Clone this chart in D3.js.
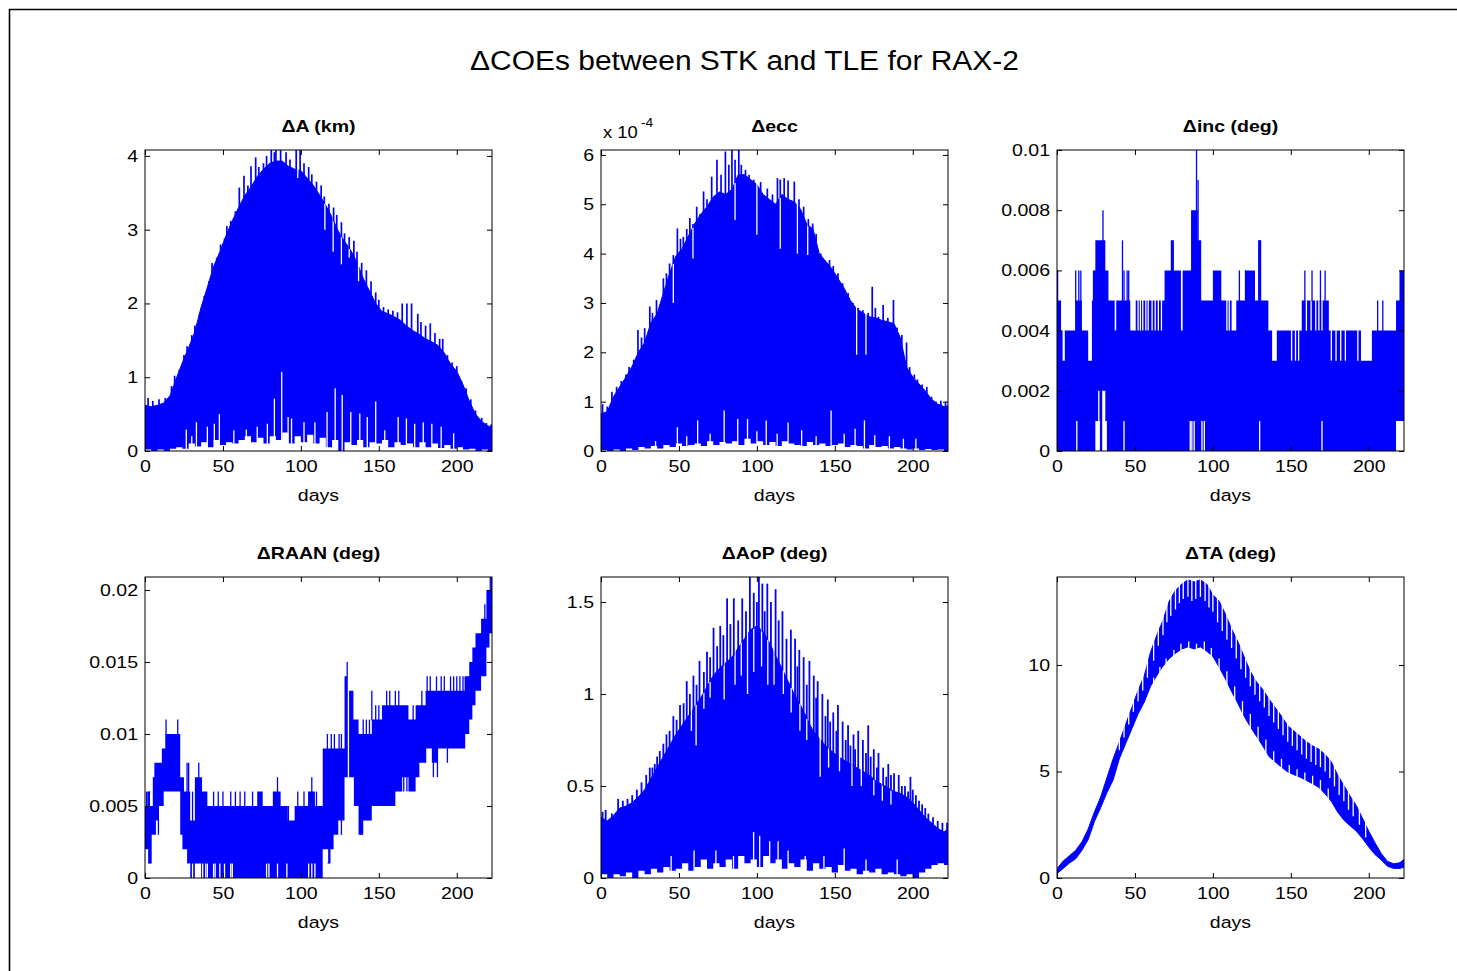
<!DOCTYPE html>
<html><head><meta charset="utf-8">
<script src="https://cdn.jsdelivr.net/npm/d3@7/dist/d3.min.js"></script>
<style>body{margin:0;background:#fff} svg{display:block} text{font-family:"Liberation Sans",Arial,sans-serif}</style>
</head><body>
<script>
// ---------------- DATA ----------------
const X_MAX = 222.6;
const xTicks = [0, 50, 100, 150, 200];
const xTickLabels = ['0', '50', '100', '150', '200'];
const gridDays = [0,4,8,12,16,20,24,28,32,36,40,44,48,52,56,60,64,68,72,76,80,84,88,92,96,100,104,108,112,116,120,124,128,132,136,140,144,148,152,156,160,164,168,172,176,180,184,188,192,196,200,204,208,212,216,220,223];

// dA (km)
const aHi = [0.62,0.6,0.62,0.65,0.75,0.98,1.2,1.4,1.62,1.95,2.22,2.5,2.7,2.92,3.12,3.3,3.46,3.58,3.72,3.82,3.9,3.93,3.93,3.86,3.82,3.8,3.7,3.6,3.47,3.33,3.17,2.98,2.84,2.72,2.56,2.34,2.17,2.0,1.89,1.86,1.82,1.77,1.69,1.63,1.58,1.52,1.48,1.43,1.33,1.18,1.08,0.9,0.68,0.5,0.4,0.34,0.32];
const aLo = [0.02,0,0.02,0,0.03,0.05,0.03,0.1,0.06,0.12,0.05,0.15,0.08,0.12,0.1,0.15,0.2,0.12,0.18,0.1,0.2,0.15,0.25,0.1,0.2,0.12,0.22,0.1,0.18,0.05,0.15,0,0.12,0.08,0.15,0.05,0.12,0.1,0.15,0.05,0.12,0.08,0.1,0.05,0.12,0.05,0.1,0.04,0.08,0.03,0.05,0.02,0.03,0,0.02,0,0.02];
const aSpikes = [[2,0.72],[5,0.68],[9,0.7],[13,0.72],[17,0.88],[19,1.02],[22,1.1],[25,1.3],[27,1.42],[30,1.57],[32,1.7],[35,1.82],[38,2.1],[41,2.3],[43,2.55],[46,2.62],[48.5,2.8],[51,2.88],[52.5,3.05],[55,3.12],[58,3.25],[60.5,3.57],[63.5,3.73],[66,3.6],[68,3.86],[71,3.98],[73,3.85],[76,3.9],[78,4.0],[81,4.11],[83,4.05],[84,4.1],[87,4.1],[90.5,4.05],[93,3.95],[97,4.09],[99.5,4.1],[102,3.9],[105,3.85],[107,3.75],[110,3.65],[113,3.6],[115,3.45],[118,3.35],[121,3.3],[123,3.2],[126,3.1],[128,2.95],[131,2.9],[134,2.85],[136,2.7],[139,2.55],[142,2.45],[145,2.3],[148,2.15],[150,2.05],[153,1.95],[156,1.92],[159,1.9],[162,1.88],[165,2.0],[168,2.0],[171,2.0],[175,1.86],[177,1.75],[180,1.7],[183,1.73],[186,1.6],[189,1.52],[191,1.52],[194,1.3],[197,1.2],[200,1.15],[203,0.95],[206,0.85],[209,0.7],[212,0.55],[216,0.45],[219,0.38],[222,0.36]];
const aDips = [[98,3.7],[115.4,3.0],[120.7,2.7],[126,2.53],[131,2.62],[137,2.3]];
const aGaps = [[26.5,0.29],[30,0.2],[33,0.39],[40,0.33],[44.5,0.37],[47.7,0.5],[57,0.28],[65,0.29],[72,0.33],[78.5,0.37],[83,0.71],[87.7,1.07],[91.8,0.46],[94,0.44],[102,0.39],[109,0.39],[116.8,0.53],[122,0.85],[126.5,0.76],[132,0.53],[137.8,0.51],[142.6,0.46],[148,0.67],[153.8,0.28],[162.4,0.46],[167.7,0.44],[173,0.37],[178.5,0.39],[184,0.37],[190,0.33],[198,0.24]];

// d ecc (units of 1e-4)
const eHi = [0.75,0.8,1.1,1.3,1.5,1.72,2.0,2.2,2.6,2.78,3.2,3.6,3.95,4.1,4.35,4.6,4.8,4.95,5.15,5.25,5.2,5.3,5.6,5.6,5.5,5.4,5.2,5.1,5.0,5.2,5.1,5.05,4.9,4.6,4.5,4.0,3.85,3.7,3.5,3.3,3.05,2.88,2.8,2.72,2.7,2.65,2.62,2.58,2.3,1.7,1.5,1.36,1.22,1.05,0.95,0.9,0.92];
const eLo = [0.02,0,0.03,0,0.05,0.02,0.08,0.05,0.1,0.05,0.12,0.08,0.15,0.1,0.12,0.15,0.1,0.2,0.12,0.18,0.15,0.2,0.12,0.25,0.15,0.2,0.12,0.18,0.1,0.2,0.15,0.12,0.1,0.18,0.12,0.15,0.1,0.12,0.15,0.08,0.12,0.1,0.05,0.12,0.08,0.1,0.05,0.08,0.05,0.03,0.05,0.02,0.04,0.02,0.03,0,0.02];
const eSpikes = [[1,0.95],[4,0.9],[7,1.2],[10,1.3],[13,1.42],[16,1.55],[18,1.7],[21,1.85],[23.7,2.45],[26,2.3],[28,2.49],[31.3,2.93],[33,2.8],[35.6,3.06],[38,2.95],[40,3.5],[42,3.6],[44,3.8],[46.4,3.97],[49,4.51],[51,4.3],[52.8,4.34],[55,4.5],[57,4.72],[59,4.6],[61.4,4.95],[63.5,4.8],[65.8,5.26],[68,5.1],[71,5.56],[74.4,5.9],[77,5.6],[79.8,6.07],[82,5.8],[84,6.1],[86,5.9],[88.4,6.13],[90,5.8],[92.7,5.7],[95,5.6],[98,5.5],[102.4,5.45],[106.7,5.32],[110,5.2],[113.2,5.53],[115,5.5],[117.5,5.53],[120,5.48],[124,5.46],[127,5.1],[130,4.95],[133,4.7],[135.8,4.61],[138,4.4],[141,4.0],[143.4,3.87],[146.6,3.87],[149,3.75],[152,3.6],[155,3.4],[158.5,3.2],[161.7,3.0],[165,2.9],[168,2.85],[171.4,2.8],[174,3.33],[176,2.9],[178,2.72],[181,2.96],[184,2.7],[187.6,3.06],[190,2.5],[193,2.35],[196,2.2],[198,1.7],[201,1.55],[203,1.45],[206,1.35],[209,1.3],[212,1.1],[215,1.0],[218,1.02],[221,1.0]];
const eDips = [[46.4,3.0],[59,3.9],[86,4.68],[100,4.38],[115,4.1],[126,4.0],[132.6,3.97],[164,1.95],[170,1.95]];
const eGaps = [[35,0.2],[49,0.48],[55,0.3],[62,0.62],[70,0.35],[79,0.82],[87.7,0.65],[94,0.65],[100,0.4],[106,0.62],[113,0.35],[120,0.58],[128.7,0.42],[138,0.3],[147.6,0.82],[156,0.35],[163,0.45],[169,0.62],[175.6,0.32],[185,0.3],[194,0.25],[202,0.25]];

// d inc (deg): step envelopes [day, value]
const incHiSteps = [[0,0.006],[0.8,0.005],[2.6,0.004],[3.6,0.003],[5,0.004],[11.6,0.005],[16,0.004],[20,0.003],[22.4,0.005],[23,0.006],[24.6,0.007],[31,0.006],[33,0.005],[37,0.004],[38,0.005],[47,0.004],[50.5,0.005],[69,0.006],[73,0.007],[75,0.006],[79.5,0.004],[80.6,0.006],[86,0.008],[90.3,0.007],[92.5,0.005],[100,0.006],[105.4,0.005],[112,0.004],[115,0.005],[120.5,0.006],[127,0.005],[129,0.007],[131,0.005],[135.6,0.004],[138,0.003],[141,0.004],[157,0.005],[174.4,0.004],[195,0.003],[202,0.004],[217.5,0.005],[219.7,0.006],[224,0.006]];
const incLoSteps = [[0,0],[24.6,0.001],[27.5,0],[29,0.002],[31,0.001],[32,0],[217.5,0.001],[224,0.001]];
const incSpikes = [[12,0.006],[14,0.006],[15.3,0.006],[29.5,0.008],[42,0.007],[43,0.006],[45,0.006],[46,0.006],[89.5,0.01],[90.5,0.009],[117,0.006],[121,0.006],[130,0.007],[159,0.006],[163.6,0.006],[169,0.006],[172,0.006],[205.7,0.005],[209,0.005]];
const incDips = [[52,0.004],[53.5,0.004],[55,0.004],[57,0.004],[58.5,0.004],[61,0.004],[63,0.004],[65,0.004],[67,0.004],[109,0.004],[110.5,0.004],[150.5,0.003],[153,0.003],[155,0.003],[160,0.004],[163,0.004],[166,0.004],[168,0.004],[170,0.004],[176,0.003],[179,0.003],[182,0.003],[185,0.003],[193,0.003]];
const incGaps = [[12.7,0.001],[26.8,0.002],[43,0.001],[85.5,0.001],[86.5,0.001],[88,0.001],[93,0.001],[94.5,0.001],[130,0.001],[170,0.001]];

// d RAAN (deg): step envelopes [day, value]
const raanHiSteps = [[0,0.005],[1.5,0.006],[3.2,0.005],[5,0.007],[6,0.008],[10.8,0.009],[13,0.01],[22.6,0.007],[25,0.006],[29,0.004],[32,0.007],[36.6,0.006],[40,0.005],[72,0.006],[75.5,0.005],[82,0.006],[87,0.005],[91.6,0.004],[96,0.005],[104.6,0.006],[109,0.005],[114,0.009],[128,0.014],[130.4,0.013],[133.7,0.011],[137,0.01],[145.5,0.011],[152,0.012],[169,0.011],[173.6,0.012],[180,0.013],[205,0.014],[208,0.015],[210,0.016],[212,0.017],[215.6,0.018],[219,0.02],[222,0.021],[224,0.021]];
const raanLoSteps = [[0,0.002],[2,0.001],[4.3,0.003],[7,0.004],[9,0.005],[12,0.006],[22.6,0.003],[24,0.002],[27,0.001],[29,0],[32,0.001],[36,0],[114,0.002],[117.5,0.001],[119,0.002],[121,0.003],[124,0.004],[128,0.007],[134,0.005],[137,0.003],[140,0.004],[145.5,0.005],[160.6,0.006],[165,0.007],[169,0.006],[173.6,0.007],[176,0.008],[180,0.009],[184,0.008],[187.6,0.009],[205,0.01],[208,0.011],[210,0.012],[212,0.013],[215.6,0.014],[219,0.016],[221,0.017],[224,0.017]];
const raanSpikes = [[1,0.006],[3,0.006],[13.5,0.011],[21,0.011],[27,0.008],[28,0.008],[30.5,0.006],[34.5,0.008],[44,0.006],[47,0.006],[50,0.006],[55,0.006],[58,0.006],[61,0.006],[64,0.006],[69,0.006],[85,0.007],[92,0.005],[98,0.006],[102,0.006],[107,0.007],[110,0.006],[117,0.01],[119.5,0.01],[121.5,0.01],[124.5,0.01],[126,0.01],[129.7,0.015],[140,0.011],[142,0.011],[144,0.011],[145.5,0.013],[148,0.012],[150,0.012],[155,0.013],[157,0.013],[160.6,0.013],[162.8,0.013],[172,0.012],[177.6,0.013],[181,0.014],[183,0.014],[187,0.014],[190,0.014],[192,0.014],[196,0.014],[198,0.014],[200,0.014],[202,0.014],[204,0.014],[218,0.019],[221.5,0.021]];
const raanDown = [[3.2,0.001],[8.6,0.003],[117.5,0.001],[126,0.003],[138.8,0.003],[143,0.004],[154,0.005],[157,0.005],[160,0.005],[166,0.006],[168,0.006],[180,0.008],[185,0.007],[187.6,0.007],[194,0.008],[205,0.009]];
const raanGaps = [[28.5,0.001],[30.5,0.001],[37,0.001],[39,0.001],[40,0.001],[44,0.001],[45,0.001],[48,0.001],[51,0.001],[55,0.001],[56,0.001],[78,0.001],[79.5,0.001],[85,0.001],[91,0.001],[105,0.001],[107,0.001],[109,0.001]];
const raanDips = [[130.5,0.007]];

// d AoP (deg)
const pHi = [0.33,0.31,0.34,0.38,0.39,0.41,0.44,0.48,0.54,0.6,0.66,0.72,0.78,0.83,0.88,0.93,0.98,1.04,1.1,1.14,1.17,1.2,1.25,1.3,1.35,1.37,1.34,1.28,1.21,1.14,1.07,1.0,0.94,0.87,0.8,0.76,0.72,0.69,0.66,0.64,0.62,0.6,0.58,0.56,0.53,0.51,0.49,0.47,0.46,0.44,0.41,0.37,0.33,0.3,0.27,0.25,0.27];
const pLo = [0.02,0,0.02,0.01,0.03,0,0.04,0.02,0.05,0.03,0.06,0.04,0.05,0.08,0.04,0.06,0.1,0.05,0.08,0.06,0.1,0.05,0.12,0.08,0.1,0.06,0.12,0.08,0.1,0.05,0.08,0.06,0.1,0.04,0.08,0.05,0.06,0.03,0.07,0.04,0.05,0.02,0.04,0.03,0.05,0.02,0.03,0.02,0.01,0.02,0,0.03,0.05,0.07,0.08,0.07,0.08];
const pSpikes = [[1,0.36],[3,0.37],[7,0.35],[11,0.43],[14,0.42],[17,0.43],[20,0.45],[23,0.48],[26,0.52],[29,0.56],[31.3,0.6],[33,0.6],[34.5,0.62],[36,0.66],[37.7,0.69],[40,0.73],[42,0.78],[44,0.8],[46.4,0.88],[48.5,0.86],[50.7,0.94],[53,0.95],[55,1.07],[57,1.0],[59.3,1.1],[61.3,1.05],[63.2,1.18],[66,1.12],[68,1.23],[70,1.2],[72.2,1.36],[74.5,1.26],[76.5,1.37],[78.5,1.32],[80.9,1.52],[83,1.38],[85.2,1.52],[88,1.4],[90.6,1.52],[93,1.45],[95.5,1.64],[98,1.55],[100,1.5],[101.3,1.64],[103.5,1.6],[105,1.45],[106.7,1.6],[109,1.5],[112,1.57],[114,1.4],[116.4,1.45],[119,1.3],[121.8,1.35],[124.5,1.3],[126,1.15],[127.2,1.24],[130,1.2],[132,1.05],[133.7,1.18],[136.5,1.1],[138,0.98],[139,1.07],[142,1.0],[144,0.88],[145.5,0.97],[147,0.85],[149,0.9],[151,0.8],[152,0.94],[155,0.85],[157,0.75],[158.5,0.83],[160,0.72],[162,0.78],[163,0.7],[165,0.8],[168,0.75],[170,0.68],[171.4,0.83],[173,0.66],[175,0.7],[177,0.6],[178,0.68],[181,0.6],[183,0.55],[184.3,0.62],[186,0.56],[188,0.57],[191,0.56],[193,0.5],[195,0.5],[197,0.47],[198.5,0.55],[200,0.48],[202,0.45],[204,0.42],[206,0.4],[208,0.38],[210,0.35],[213,0.33],[216,0.31],[219,0.3],[222,0.3]];
const pDips = [[58,0.8],[61,0.72],[66,0.92],[70,0.98],[79,0.97],[86,1.05],[90,1.1],[94,1.0],[98,1.12],[103,1.15],[107,1.05],[111,1.05],[117,1.0],[122,0.9],[127.6,0.8],[132,0.75],[140.6,0.55],[146,0.6],[153,0.58],[161,0.5],[167,0.5],[175,0.45],[180.5,0.42],[186,0.4]];
const pGaps = [[45,0.12],[59.7,0.15],[73.7,0.15],[85,0.12],[97.9,0.25],[101.8,0.23],[108.2,0.2],[113.6,0.2],[120,0.15],[131,0.12],[143,0.12],[156,0.16],[170,0.1],[190,0.1]];

// d TA (deg)
const tHi = [0.44,0.8,1.05,1.3,1.7,2.3,3.1,3.8,4.7,5.6,6.38,7.2,8.0,8.8,9.5,10.6,11.4,12.1,13.0,13.5,13.8,14.0,13.9,14.0,13.8,13.3,13.0,12.4,11.7,11.1,10.4,9.7,9.2,8.85,8.4,8.0,7.6,7.15,6.9,6.65,6.4,6.2,6.05,5.8,5.45,4.85,4.35,3.85,3.4,2.8,2.2,1.65,1.15,0.78,0.67,0.72,0.9];
const tLo = [0.2,0.45,0.7,0.9,1.3,1.8,2.65,3.3,4.0,4.6,5.6,6.3,7.0,7.7,8.26,9.0,9.5,9.95,10.3,10.55,10.75,10.85,10.75,10.85,10.65,10.4,9.9,9.35,8.75,8.2,7.6,7.1,6.65,6.2,5.7,5.45,5.2,4.98,4.85,4.73,4.58,4.43,4.25,3.95,3.6,3.1,2.72,2.45,2.2,1.85,1.45,1.1,0.85,0.55,0.45,0.45,0.52];
const tDips = [[40,6.0],[43,6.6],[46,7.2],[49,7.8],[52,8.3],[55,8.8],[58,9.4],[62,10.2],[65,10.9],[68,11.4],[70.5,12.0],[73,12.3],[76,12.6],[78.5,12.9],[81,13.1],[84,13.2],[86.5,13.0],[89,13.1],[92,13.2],[95,13.0],[97.5,12.7],[100,12.5],[103,12.0],[106,11.6],[109,11.2],[112,10.8],[115,10.3],[118,9.8],[121,9.4],[124,9.0],[127,8.6],[130,8.3],[133,8.0],[136,7.6],[139,7.3],[142,7.0],[145,6.7],[148,6.4],[151,6.2],[154,6.0],[157,5.8],[160,5.6],[163,5.45],[166,5.3],[169,5.2],[172,5.0],[175,4.7],[178,4.3],[181,3.9],[184,3.6],[187,3.2],[190,2.9],[194,2.5],[198,1.9]];
const tGaps = [[62,9.4],[66,9.9],[70,10.3],[75,10.7],[79.5,11.0],[84.5,11.1],[89.5,11.0],[94.5,11.1],[99,10.8],[104,10.3],[109,9.7],[114,9.0],[119,8.3],[124,7.7],[129,7.1],[134,6.5],[139,5.95],[144,5.6],[149,5.3],[154,5.1],[159,4.95],[164,4.8],[169,4.6],[174,4.2]];

// ---------------- DRAWING ----------------
const W = 1457, H = 971, SX = 1.15, BLUE = '#0000ff', FONT = '"Liberation Sans", Arial, sans-serif';
const svg = d3.select('body').append('svg').attr('width', W).attr('height', H);
svg.append('rect').attr('width', W).attr('height', H).attr('fill', '#fff');
svg.append('path').attr('d', `M9.5,${H} V9.5 H${W}`).attr('fill', 'none').attr('stroke', '#000').attr('stroke-width', 1.6);

const layout = { cols: [145, 601, 1057], rows: [150, 577], w: 347, h: 301 };

function stretchedText(x, y, str, size, weight, sx) {
  return svg.append('text').attr('transform', `translate(${x},${y}) scale(${sx || SX},1)`)
    .attr('text-anchor', 'middle').attr('font-family', FONT).attr('font-size', size)
    .attr('font-weight', weight || 'normal').attr('fill', '#000').text(str);
}
function interp(xs, ys, d) {
  const i = Math.max(1, Math.min(xs.length - 1, d3.bisectRight(xs, d)));
  const t = (d - xs[i - 1]) / (xs[i] - xs[i - 1]);
  return ys[i - 1] + (ys[i] - ys[i - 1]) * t;
}
function stepAt(steps, d) { let v = steps[0][1]; for (const s of steps) if (s[0] <= d) v = s[1]; return v; }

function makePanel(col, row, o) {
  const left = layout.cols[col], top = layout.rows[row], w = layout.w, h = layout.h;
  const x = d3.scaleLinear().domain([0, X_MAX]).range([left, left + w]);
  const y = d3.scaleLinear().domain([0, o.yMax]).range([top + h, top]);
  const id = `clip${col}${row}`;
  svg.append('clipPath').attr('id', id).append('rect').attr('x', left).attr('y', top).attr('width', w).attr('height', h);
  const g = svg.append('g').attr('clip-path', `url(#${id})`);
  let hiAt, loAt;
  if (o.kind === 'smooth') {
    const pts = gridDays.map((d, i) => ({ d, lo: o.lo[i], hi: o.hi[i] }));
    g.append('path').datum(pts)
      .attr('d', d3.area().x(p => x(p.d)).y0(y(0) + 2).y1(p => y(p.hi)))
      .attr('fill', BLUE).attr('stroke', BLUE).attr('stroke-width', 1);
    if (o.band) {
      g.append('path').datum(pts)
        .attr('d', d3.area().x(p => x(p.d)).y0(y(0) + 2).y1(p => y(p.lo)))
        .attr('fill', '#fff').attr('stroke', BLUE).attr('stroke-width', 1);
    } else {
      g.append('path').datum(pts)
        .attr('d', d3.area().curve(d3.curveStepAfter).x(p => x(p.d)).y0(y(0) + 2).y1(p => y(p.lo)))
        .attr('fill', '#fff');
    }
    hiAt = d => interp(gridDays, o.hi, d);
    loAt = d => interp(gridDays, o.lo, d);
  } else {
    const hiPts = o.hiSteps.map(s => ({ d: s[0], v: s[1] }));
    const loPts = o.loSteps.map(s => ({ d: s[0], v: s[1] }));
    g.append('path').datum(hiPts)
      .attr('d', d3.area().curve(d3.curveStepAfter).x(p => x(p.d)).y0(y(0) + 2).y1(p => y(p.v)))
      .attr('fill', BLUE);
    g.append('path').datum(loPts)
      .attr('d', d3.area().curve(d3.curveStepAfter).x(p => x(p.d)).y0(y(0) + 2).y1(p => y(p.v)))
      .attr('fill', '#fff');
    hiAt = d => stepAt(o.hiSteps, d);
    loAt = d => stepAt(o.loSteps, d);
  }
  const sw = o.spikeWidth || 1.3;
  const vline = (d, a, b, c, wd) => g.append('line').attr('x1', x(d)).attr('x2', x(d))
    .attr('y1', a).attr('y2', b).attr('stroke', c).attr('stroke-width', wd);
  (o.gaps || []).forEach(([d, v]) => vline(d, y(0) + 2, y(v), '#fff', 1.3));
  (o.dips || []).forEach(([d, v]) => vline(d, y(v), y(o.yMax) - 2, '#fff', 1.3));
  (o.spikes || []).forEach(([d, v]) => vline(d, y(hiAt(d)) + 1, y(v), BLUE, sw));
  (o.down || []).forEach(([d, v]) => vline(d, y(loAt(d)) - 1, y(v), BLUE, sw));

  // axes box + inward ticks (MATLAB style)
  svg.append('rect').attr('x', left).attr('y', top).attr('width', w).attr('height', h)
    .attr('fill', 'none').attr('stroke', '#000').attr('stroke-width', 1);
  const styleAxis = a => { a.select('.domain').remove(); a.selectAll('line').attr('stroke', '#000');
    a.attr('font-family', FONT).attr('font-size', 17); a.selectAll('text').attr('fill', '#000'); return a; };
  const yl = styleAxis(svg.append('g').attr('transform', `translate(${left},0)`)
    .call(d3.axisLeft(y).tickValues(o.yTicks).tickFormat((d, i) => o.yLabels[i]).tickSize(-5).tickPadding(7)));
  yl.selectAll('text').attr('transform', `scale(${SX},1)`).attr('x', -7 / SX);
  styleAxis(svg.append('g').attr('transform', `translate(${left + w},0)`)
    .call(d3.axisRight(y).tickValues(o.yTicks).tickFormat('').tickSize(-5)));
  const xb = styleAxis(svg.append('g').attr('transform', `translate(0,${top + h})`)
    .call(d3.axisBottom(x).tickValues(xTicks).tickFormat((d, i) => xTickLabels[i]).tickSize(-5).tickPadding(9)));
  xb.selectAll('text').attr('transform', `scale(${SX},1)`);
  styleAxis(svg.append('g').attr('transform', `translate(0,${top})`)
    .call(d3.axisTop(x).tickValues(xTicks).tickFormat('').tickSize(-5)));

  stretchedText(left + w / 2, top - 18, o.title, 16, 'bold', 1.22);
  stretchedText(left + w / 2, top + h + 50, 'days', 17);
}

stretchedText(W / 2 + 16, 70, '\u0394COEs between STK and TLE for RAX-2', 28, 'normal', 1.07);

makePanel(0, 0, { kind: 'smooth', title: '\u0394A (km)', yMax: 4.08, yTicks: [0,1,2,3,4], yLabels: ['0','1','2','3','4'],
  hi: aHi, lo: aLo, spikes: aSpikes, dips: aDips, gaps: aGaps, spikeWidth: 1.7 });
makePanel(1, 0, { kind: 'smooth', title: '\u0394ecc', yMax: 6.1, yTicks: [0,1,2,3,4,5,6], yLabels: ['0','1','2','3','4','5','6'],
  hi: eHi, lo: eLo, spikes: eSpikes, dips: eDips, gaps: eGaps, spikeWidth: 1.7 });
makePanel(2, 0, { kind: 'step', title: '\u0394inc (deg)', yMax: 0.01, yTicks: [0,0.002,0.004,0.006,0.008,0.01],
  yLabels: ['0','0.002','0.004','0.006','0.008','0.01'],
  hiSteps: incHiSteps, loSteps: incLoSteps, spikes: incSpikes, dips: incDips, gaps: incGaps });
makePanel(0, 1, { kind: 'step', title: '\u0394RAAN (deg)', yMax: 0.0209, yTicks: [0,0.005,0.01,0.015,0.02],
  yLabels: ['0','0.005','0.01','0.015','0.02'],
  hiSteps: raanHiSteps, loSteps: raanLoSteps, spikes: raanSpikes, down: raanDown, gaps: raanGaps, dips: raanDips });
makePanel(1, 1, { kind: 'smooth', title: '\u0394AoP (deg)', yMax: 1.636, yTicks: [0,0.5,1,1.5], yLabels: ['0','0.5','1','1.5'],
  hi: pHi, lo: pLo, spikes: pSpikes, dips: pDips, gaps: pGaps, spikeWidth: 1.8 });
makePanel(2, 1, { kind: 'smooth', band: true, title: '\u0394TA (deg)', yMax: 14.13, yTicks: [0,5,10], yLabels: ['0','5','10'],
  hi: tHi, lo: tLo, dips: tDips, gaps: tGaps });

// exponent label of the ecc axis
svg.append('text').attr('transform', `translate(603,138) scale(${SX},1)`).attr('font-family', FONT)
  .attr('font-size', 16).attr('fill', '#000').text('x 10');
svg.append('text').attr('transform', `translate(641,127) scale(${SX},1)`).attr('font-family', FONT)
  .attr('font-size', 12).attr('fill', '#000').text('-4');
</script></body></html>
